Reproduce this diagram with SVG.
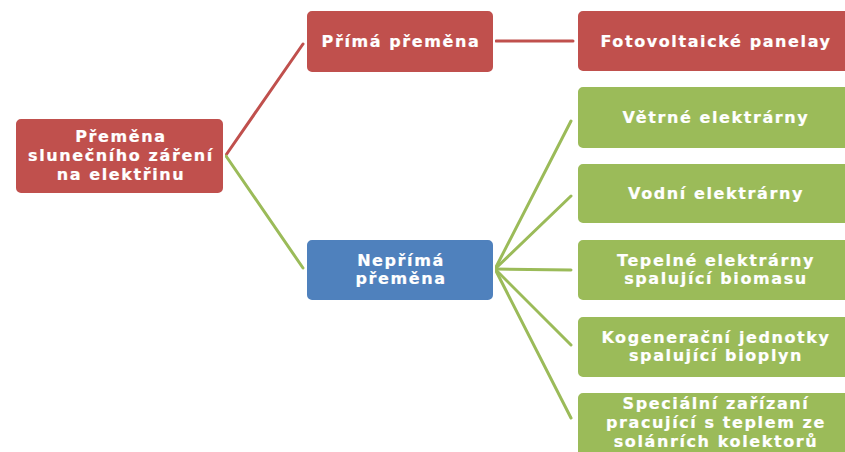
<svg xmlns="http://www.w3.org/2000/svg" width="845" height="452" viewBox="0 0 845 452">
<style>
.red{fill:#C0504D}
.blue{fill:#4F81BD}
.green{fill:#9BBB59}
.box{stroke:#ffffff;stroke-width:2}
text{font-family:"DejaVu Sans","Verdana",sans-serif;font-weight:bold;font-size:16px;letter-spacing:1.6px;fill:#ffffff;stroke:#ffffff;stroke-width:0.2;text-anchor:middle}
.lr{stroke:#C0504D;stroke-width:3;fill:none;stroke-linecap:round}
.lg{stroke:#9BBB59;stroke-width:3;fill:none;stroke-linecap:round}
</style>
<rect width="845" height="452" fill="#ffffff"/>
<g id="connectors">
<line class="lr" x1="226" y1="155" x2="303" y2="44"/>
<line class="lg" x1="226" y1="156" x2="303" y2="268"/>
<line class="lr" x1="496" y1="41" x2="573" y2="41"/>
<line class="lg" x1="495" y1="269" x2="571" y2="121"/>
<line class="lg" x1="495" y1="269" x2="571" y2="196"/>
<line class="lg" x1="495" y1="269" x2="571" y2="270"/>
<line class="lg" x1="495" y1="269" x2="571" y2="345"/>
<line class="lg" x1="495" y1="269" x2="571" y2="418"/>
</g>
<g id="root">
<rect class="red box" x="15" y="118" width="209" height="76" rx="6"/>
<text x="121" y="142">Přeměna</text>
<text x="121" y="161">slunečního záření</text>
<text x="121" y="180">na elektřinu</text>
</g>
<g id="prima">
<rect class="red box" x="306" y="10" width="188" height="63" rx="6"/>
<text x="401" y="47">Přímá přeměna</text>
</g>
<g id="neprima">
<rect class="blue box" x="306" y="239" width="188" height="62" rx="6"/>
<text x="401" y="266">Nepřímá</text>
<text x="401" y="284">přeměna</text>
</g>
<g id="fotovoltaicke">
<rect class="red box" x="577" y="10" width="276" height="62" rx="6"/>
<text x="716" y="47">Fotovoltaické panelay</text>
</g>
<g id="vetrne">
<rect class="green box" x="577" y="86" width="276" height="63" rx="6"/>
<text x="716" y="123">Větrné elektrárny</text>
</g>
<g id="vodni">
<rect class="green box" x="577" y="163" width="276" height="61" rx="6"/>
<text x="716" y="199">Vodní elektrárny</text>
</g>
<g id="tepelne">
<rect class="green box" x="577" y="239" width="276" height="62" rx="6"/>
<text x="716" y="266">Tepelné elektrárny</text>
<text x="716" y="284">spalující biomasu</text>
</g>
<g id="kogeneracni">
<rect class="green box" x="577" y="316" width="276" height="62" rx="6"/>
<text x="716" y="343">Kogenerační jednotky</text>
<text x="716" y="361">spalující bioplyn</text>
</g>
<g id="specialni">
<rect class="green box" x="577" y="392" width="276" height="66" rx="6"/>
<text x="716" y="409">Speciální zařízaní</text>
<text x="716" y="428">pracující s teplem ze</text>
<text x="716" y="447">solánrích kolektorů</text>
</g>
</svg>
